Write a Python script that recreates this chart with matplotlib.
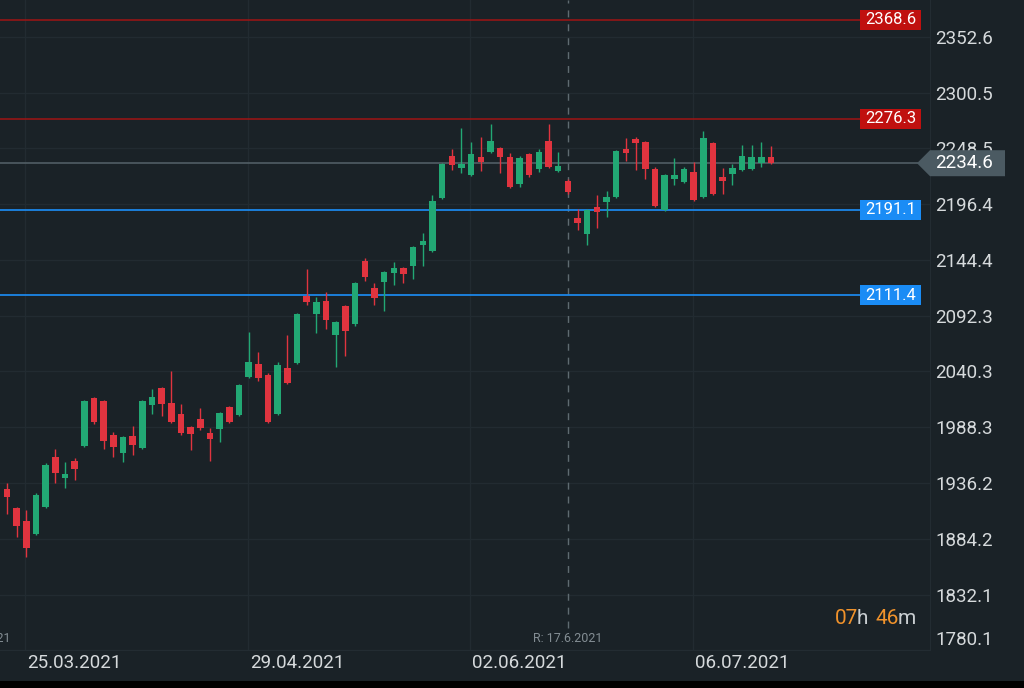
import matplotlib
matplotlib.use('Agg')
import matplotlib.pyplot as plt
from matplotlib.patches import Rectangle, Polygon
from matplotlib.transforms import IdentityTransform, blended_transform_factory
from matplotlib.offsetbox import TextArea, HPacker, AnnotationBbox
import numpy as np

# ---------------- data ----------------
opens = [1930.7, 1913.0, 1900.9, 1888.7, 1913.9, 1960.6, 1941.0, 1956.8, 1970.8, 2015.6,
         2012.8, 1981.1, 1964.3, 1980.1, 1969.0, 2009.1, 2024.9, 2010.9, 2000.7, 1988.5,
         1996.0, 1982.9, 1986.7, 2007.2, 1999.7, 2035.2, 2047.3, 2037.1, 2000.7, 2043.6,
         2048.2, 2110.7, 2093.9, 2106.1, 2074.4, 2101.4, 2084.6, 2143.4, 2118.2, 2123.8,
         2132.2, 2136.9, 2138.7, 2158.3, 2152.7, 2202.2, 2241.3, 2230.1, 2223.6, 2240.4,
         2245.1, 2248.8, 2240.4, 2215.2, 2243.2, 2229.2, 2255.3, 2227.3, 2218.0, 2183.5,
         2168.6, 2193.8, 2198.4, 2203.1, 2247.9, 2257.2, 2254.4, 2229.2, 2191.0, 2219.9,
         2217.1, 2226.4, 2203.1, 2253.5, 2221.7, 2224.5, 2228.3, 2229.2, 2234.8, 2240.4]
highs = [1936.3, 1914.0, 1911.1, 1927.0, 1955.0, 1968.0, 1955.9, 1959.6, 2013.5, 2016.5,
         2013.5, 1983.9, 1980.0, 1989.5, 2013.5, 2024.0, 2025.6, 2040.8, 2010.0, 1989.2,
         2006.3, 1987.6, 2002.3, 2008.1, 2028.5, 2077.2, 2058.5, 2038.9, 2049.2, 2074.4,
         2094.7, 2135.9, 2109.8, 2114.5, 2087.3, 2102.2, 2123.8, 2146.2, 2122.9, 2133.9,
         2142.5, 2137.6, 2157.2, 2169.5, 2204.9, 2234.6, 2247.9, 2267.5, 2254.4, 2259.1,
         2271.2, 2249.5, 2244.1, 2241.3, 2244.0, 2247.9, 2271.2, 2245.1, 2219.9, 2191.9,
         2191.9, 2204.9, 2208.7, 2246.8, 2258.1, 2259.1, 2255.1, 2231.1, 2224.3, 2239.5,
         2231.1, 2235.7, 2264.6, 2254.2, 2230.1, 2233.9, 2251.6, 2251.6, 2254.4, 2250.7]
lows = [1907.4, 1885.9, 1867.3, 1887.8, 1913.0, 1936.3, 1931.6, 1939.1, 1970.0, 1991.4,
        1968.0, 1960.6, 1955.9, 1962.4, 1968.2, 2000.7, 1998.8, 1992.5, 1981.1, 1967.1,
        1985.7, 1956.8, 1974.6, 1992.3, 1999.0, 2034.5, 2031.4, 1992.3, 2000.0, 2028.8,
        2047.5, 2102.3, 2076.2, 2080.0, 2044.5, 2054.8, 2082.8, 2124.7, 2102.3, 2096.8,
        2121.0, 2122.9, 2126.6, 2138.7, 2152.0, 2201.5, 2228.3, 2225.5, 2222.9, 2227.3,
        2244.4, 2225.5, 2211.7, 2212.4, 2221.7, 2226.4, 2230.4, 2226.4, 2205.9, 2172.3,
        2158.3, 2174.1, 2184.4, 2202.4, 2236.7, 2228.3, 2219.9, 2194.0, 2190.3, 2214.3,
        2216.4, 2199.6, 2202.4, 2205.2, 2205.9, 2214.3, 2227.6, 2228.5, 2231.1, 2234.1]
closes = [1923.2, 1896.2, 1875.7, 1925.1, 1953.1, 1945.6, 1944.7, 1949.4, 2012.8, 1993.2,
          1975.5, 1969.9, 1979.2, 1971.8, 2012.8, 2016.5, 2010.0, 1993.2, 1982.9, 1982.0,
          1987.6, 1977.4, 2001.6, 1993.2, 2027.7, 2049.2, 2034.2, 1993.2, 2046.4, 2029.6,
          2093.9, 2105.1, 2105.1, 2088.4, 2086.5, 2078.0, 2122.9, 2128.5, 2108.9, 2133.1,
          2136.9, 2131.3, 2156.5, 2162.0, 2199.4, 2233.9, 2233.0, 2233.9, 2243.2, 2235.7,
          2255.3, 2240.4, 2212.4, 2239.5, 2223.6, 2245.1, 2231.1, 2232.0, 2207.8, 2178.8,
          2191.0, 2189.1, 2203.1, 2246.0, 2244.1, 2253.5, 2229.2, 2194.7, 2223.6, 2223.6,
          2229.2, 2200.3, 2258.1, 2205.9, 2218.0, 2230.1, 2241.3, 2240.4, 2240.4, 2234.6]

price_ticks = [2352.6, 2300.5, 2248.5, 2196.4, 2144.4, 2092.3, 2040.3, 1988.3, 1936.2, 1884.2, 1832.1, 1780.1]
date_tick_index = [7, 30, 53, 76]
date_labels = ['25.03.2021', '29.04.2021', '02.06.2021', '06.07.2021']
month_grid_index = [1.9, 24.9, 47.9, 70.9]
red_levels = [2368.6, 2276.3]
blue_levels = [2191.1, 2111.4]
current_price = 2234.6
roll_index = 58
roll_label = 'R: 17.6.2021'
prev_roll_index = -3.2
prev_roll_label = 'R: 16.3.2021'
timer_hours = ('07', 'h')
timer_minutes = ('46', 'm')

# ---------------- style ----------------
BG = '#1a2227'
GRID = '#222b31'
TXT = '#d6dadc'
UP = '#22a874'
DOWN = '#e0343f'
RED_LINE = '#a01414'
RED_BOX = '#c0100f'
BLUE_LINE = '#1c86e8'
BLUE_BOX = '#1a8cf5'
CUR_LINE = '#56636a'
CUR_TAG = '#4b5a62'
ORANGE = '#f0922b'
UNIT_GRAY = '#c9ced1'
FONT = 'Roboto'

W, H = 1024, 688
fig = plt.figure(figsize=(W / 100, H / 100), dpi=100, facecolor=BG)
ax_top, ax_bot, ax_right = 0, 650, 930
ax = fig.add_axes([0, (H - ax_bot) / H, ax_right / W, (ax_bot - ax_top) / H], facecolor=BG)

step_px = 9.67
x0_px = 7
ax.set_xlim(-x0_px / step_px, (ax_right - x0_px) / step_px)
ax.set_ylim(1780.5, 2386.85)

# grid
for t in price_ticks:
    ax.axhline(t, color=GRID, lw=0.9, zorder=0)
for g in month_grid_index:
    ax.axvline(g, color=GRID, lw=0.9, zorder=0)

# candles
o = np.array(opens); c = np.array(closes); hi = np.array(highs); lo = np.array(lows)
x = np.arange(len(o))
up = c >= o
cols = np.where(up, UP, DOWN)
ax.vlines(x, lo, hi, colors=cols, lw=1.0, zorder=3)
body_lo = np.minimum(o, c)
body_h = np.maximum(np.abs(c - o), 1.2)
ax.bar(x, body_h, bottom=body_lo, width=0.68, color=cols, edgecolor='none', zorder=4)

# level lines
line_frac = 860 / ax_right
for lv in red_levels:
    ax.axhline(lv, xmin=0, xmax=line_frac, color=RED_LINE, lw=1.1, zorder=2)
for lv in blue_levels:
    ax.axhline(lv, xmin=0, xmax=line_frac, color=BLUE_LINE, lw=1.3, zorder=2)
ax.axhline(current_price, xmin=0, xmax=1, color=CUR_LINE, lw=1.1, zorder=2)

# roll (dashed vertical) line
ax.axvline(roll_index, ymin=0.034, ymax=1, color='#5f6b71', lw=1.0, ls=(0, (5, 5)), zorder=1)
tr = blended_transform_factory(ax.transData, ax.transAxes)
ax.text(roll_index, 11 / 650, roll_label, transform=tr, ha='center', va='center',
        fontsize=9, color='#838d93', family=FONT)
ax.text(prev_roll_index, 11 / 650, prev_roll_label, transform=tr, ha='center', va='center',
        fontsize=9, color='#838d93', family=FONT, clip_on=False)

# axes ticks
ax.yaxis.tick_right()
ax.set_yticks(price_ticks[:-1])
ax.set_yticklabels([f'{t:.1f}' for t in price_ticks[:-1]])
ax.tick_params(axis='y', length=0, pad=4, labelsize=13.5, labelcolor=TXT)
ax.set_xticks(date_tick_index)
ax.set_xticklabels(date_labels)
ax.tick_params(axis='x', length=0, pad=3, labelsize=13.5, labelcolor=TXT)
for lab in ax.get_xticklabels() + ax.get_yticklabels():
    lab.set_family(FONT)
for s in ['top', 'left']:
    ax.spines[s].set_visible(False)
for s in ['right', 'bottom']:
    ax.spines[s].set_color('#232c32')
    ax.spines[s].set_linewidth(0.8)

# last (bottom) price label, lifted like the reference
fig.text(935 / W, (H - 640) / H, f'{price_ticks[-1]:.1f}', ha='left', va='center',
         fontsize=13.5, color=TXT, family=FONT)

# helper: price -> display y
def ypix(p):
    return ax.transData.transform((0, p))[1]

# level label boxes
for lv, box in [(v, RED_BOX) for v in red_levels] + [(v, BLUE_BOX) for v in blue_levels]:
    yp = ypix(lv)
    fig.patches.append(Rectangle((860, yp - 10), 61, 20, transform=IdentityTransform(),
                                 facecolor=box, edgecolor='none', zorder=5))
    fig.text(890.5 / W, yp / H, f'{lv:.1f}', ha='center', va='center', fontsize=12,
             color='white', family=FONT, zorder=6)

# current price tag
yp = ypix(current_price)
tag = Polygon([(917, yp), (930, yp + 13), (1005, yp + 13), (1005, yp - 13), (930, yp - 13)],
              closed=True, transform=IdentityTransform(), facecolor=CUR_TAG, edgecolor='none', zorder=5)
fig.patches.append(tag)
fig.text(935 / W, yp / H, f'{current_price:.1f}', ha='left', va='center', fontsize=13.5,
         color='white', family=FONT, zorder=6)

# timer text (multi-coloured)
def ta(s, col):
    return TextArea(s, textprops=dict(color=col, fontsize=15, family=FONT))
g1 = HPacker(children=[ta(timer_hours[0], ORANGE), ta(timer_hours[1], UNIT_GRAY)],
             align='baseline', pad=0, sep=-1)
g2 = HPacker(children=[ta(timer_minutes[0], ORANGE), ta(timer_minutes[1], UNIT_GRAY)],
             align='baseline', pad=0, sep=-1)
box = HPacker(children=[g1, g2], align='baseline', pad=0, sep=5)
ab = AnnotationBbox(box, (835 / W, (H - 619) / H), xycoords='figure fraction',
                    box_alignment=(0, 0.5), frameon=False, pad=0)
fig.add_artist(ab)

# bottom black strip
fig.patches.append(Rectangle((0, 0), 1, 7 / H, transform=fig.transFigure,
                             facecolor='black', edgecolor='none', zorder=5))

fig.savefig('out.png', dpi=100, facecolor=BG)
